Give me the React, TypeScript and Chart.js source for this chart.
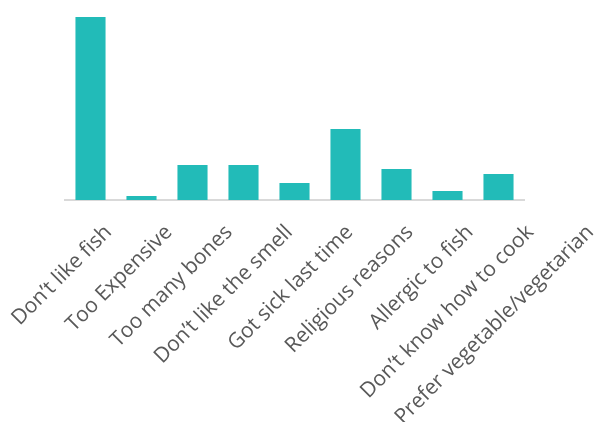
import { useEffect, useRef } from 'react';
import { Chart, registerables } from 'chart.js';

Chart.register(...registerables);

const categories = [
  'Don’t like fish',
  'Too Expensive',
  'Too many bones',
  'Don’t like the smell',
  'Got sick last time',
  'Religious reasons',
  'Allergic to fish',
  'Don’t know how to cook',
  'Prefer vegetable/vegetarian',
];
const values = [183, 4, 35, 35, 17, 71, 31, 9, 26];

const LABEL_STEP = 60.25;
const LABEL_SHIFT = 18;

const labelSpread = {
  id: 'labelSpread',
  afterLayout(chart: any) {
    const s = chart.scales.xl;
    const base = chart.scales.x;
    if (!s || !base) return;
    const first = base.getPixelForValue(0) + LABEL_SHIFT;
    const width = LABEL_STEP * categories.length;
    s.left = first - LABEL_STEP / 2;
    s.right = s.left + width;
    s.width = width;
    s.configure();
    s._labelItems = null;
  },
};

export default function App() {
  const ref = useRef<HTMLCanvasElement>(null);
  useEffect(() => {
    if (!ref.current) return;
    const chart = new Chart(ref.current, {
      type: 'bar',
      data: {
        labels: categories,
        datasets: [
          {
            data: values,
            backgroundColor: '#22BBB8',
            borderWidth: 0,
            categoryPercentage: 1,
            barPercentage: 0.59,
            xAxisID: 'x',
            yAxisID: 'y',
          },
        ],
      },
      plugins: [labelSpread],
      options: {
        animation: false,
        responsive: false,
        layout: { padding: { left: 65, right: 92, top: 17, bottom: 0 } },
        plugins: { legend: { display: false }, tooltip: { enabled: false } },
        scales: {
          x: {
            type: 'category',
            position: 'bottom',
            weight: 0,
            grid: { display: false, drawTicks: false },
            border: { display: true, color: '#d9d9d9', width: 2 },
            ticks: { display: false },
            afterFit: (s: any) => {
              s.height = 0;
              s.paddingLeft = 0;
              s.paddingRight = 0;
            },
          },
          xl: {
            type: 'category',
            position: 'bottom',
            weight: 1,
            labels: categories,
            grid: { display: false, drawTicks: false },
            border: { display: false },
            ticks: {
              autoSkip: false,
              minRotation: 45,
              maxRotation: 45,
              padding: 20,
              color: '#595959',
              font: { family: '"Open Sans"', size: 21 },
            },
            afterFit: (s: any) => {
              s.height = 222;
              s.paddingLeft = 0;
              s.paddingRight = 0;
            },
          },
          y: {
            display: false,
            min: 0,
            max: 183,
          },
        },
      },
    });
    return () => chart.destroy();
  }, []);
  return (
    <div style={{ position: 'fixed', left: 0, top: 0, width: 616, height: 422 }}>
      <canvas ref={ref} width={616} height={422} />
    </div>
  );
}
